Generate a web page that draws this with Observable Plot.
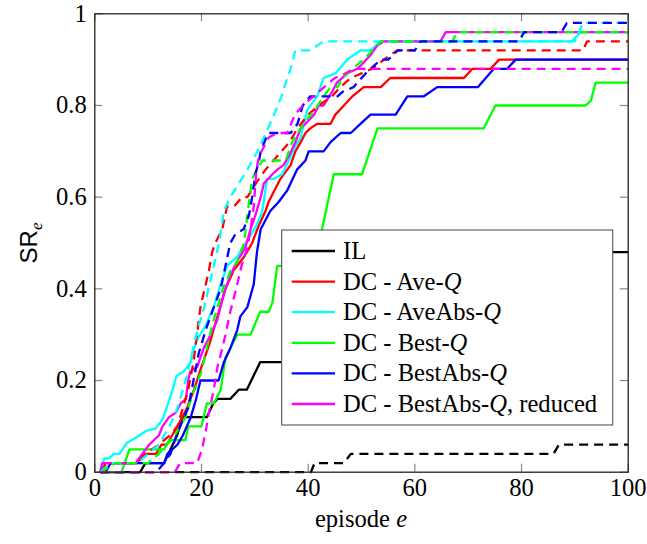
<!DOCTYPE html>
<html><head><meta charset="utf-8">
<script src="https://cdn.jsdelivr.net/npm/d3@7"></script>
<script src="https://cdn.jsdelivr.net/npm/@observablehq/plot@0.6"></script>
<style>
html,body{margin:0;padding:0;background:#fff;}
#chart{width:647px;height:544px;}
</style></head><body><div id="chart"></div>
<script>
// ---- ticks ----
const xTicks = [0, 20, 40, 60, 80, 100];
const yTicks = [0, 0.2, 0.4, 0.6, 0.8, 1];
const yTickLabels = ["0", "0.2", "0.4", "0.6", "0.8", "1"];

// ---- legend ----
const seriesNames = ["IL", "DC - Ave-Q", "DC - AveAbs-Q", "DC - Best-Q", "DC - BestAbs-Q", "DC - BestAbs-Q, reduced"];
const seriesColors = ["#000000", "#ff0000", "#00ffff", "#00ff00", "#0000ff", "#ff00ff"];

// ---- series (episode, SR) : solid ----
const ilSolid = [[1,0],[8.5,0],[9.5,0.02],[13,0.02],[13.8,0.04],[15.4,0.08],[16.5,0.12],[21,0.12],[22.2,0.15],[23,0.16],[25.4,0.16],[27,0.18],[28.5,0.18],[31,0.24],[36,0.24],[42,0.28],[50,0.32],[58,0.36],[66,0.4],[75,0.44],[85,0.46],[94,0.48],[100,0.48]];
const aveSolid = [[1,0],[2,0.02],[8,0.02],[9,0.04],[11.5,0.04],[12.5,0.06],[13.5,0.06],[14.5,0.08],[15.5,0.1],[17.3,0.14],[18.6,0.18],[20,0.23],[21.5,0.28],[22.5,0.32],[23.5,0.36],[24.5,0.4],[26,0.44],[28,0.47],[29.5,0.5],[30.8,0.54],[32,0.57],[32.6,0.59],[34.8,0.64],[36.7,0.67],[37.6,0.7],[38.6,0.72],[39.5,0.74],[40.4,0.75],[41.7,0.76],[44.2,0.76],[45.1,0.78],[46.7,0.8],[48.3,0.82],[50.4,0.84],[53.6,0.84],[55.4,0.86],[69.2,0.86],[70.8,0.88],[74.2,0.88],[75.8,0.9],[100,0.9]];
const aveAbsSolid = [[1,0],[1.8,0.03],[2.7,0.03],[3.6,0.04],[4.6,0.04],[5.2,0.05],[6.1,0.065],[7.7,0.075],[9.6,0.09],[11.4,0.095],[12.7,0.115],[13.6,0.145],[14.6,0.18],[15.3,0.21],[16.7,0.22],[18,0.24],[18.3,0.26],[19.2,0.29],[20.8,0.32],[22.3,0.36],[23.6,0.41],[24.8,0.45],[26.7,0.47],[28.3,0.5],[30.4,0.54],[31.4,0.57],[32.3,0.64],[33.6,0.64],[35.1,0.65],[36.4,0.68],[37.5,0.71],[38.6,0.73],[39.8,0.79],[41.7,0.82],[42.9,0.86],[45.1,0.87],[47.3,0.9],[49.8,0.92],[51.7,0.92],[53.6,0.94],[89.5,0.94],[91,0.96],[100,0.96]];
const bestSolid = [[1,0],[5,0],[6.5,0.05],[13,0.05],[14,0.07],[17,0.07],[17.5,0.1],[20,0.1],[21,0.15],[22.3,0.15],[23.6,0.18],[24.5,0.25],[26.7,0.3],[29.2,0.3],[31,0.35],[32.6,0.35],[33.3,0.37],[34.2,0.45],[40,0.45],[41,0.5],[42.6,0.53],[44.8,0.65],[50.1,0.65],[53,0.75],[72.9,0.75],[75.1,0.8],[92,0.8],[93,0.81],[93.9,0.85],[100,0.85]];
const bestAbsSolid = [[2,0],[3,0.02],[13,0.02],[13.6,0.04],[15.5,0.06],[16.5,0.08],[18,0.12],[19,0.16],[19.8,0.2],[23.2,0.2],[24.2,0.24],[25.4,0.27],[26.7,0.31],[27.3,0.34],[28.6,0.36],[29.8,0.41],[30.4,0.48],[31.1,0.53],[32.9,0.57],[34.5,0.59],[36.1,0.615],[37.9,0.66],[39.5,0.68],[40.1,0.7],[42.9,0.7],[44.2,0.72],[46.1,0.74],[48,0.74],[49.8,0.76],[51.7,0.78],[56.4,0.78],[58.6,0.82],[61.7,0.82],[64.2,0.84],[71.8,0.84],[73.3,0.86],[74.8,0.88],[77.3,0.88],[78.9,0.9],[100,0.9]];
const reducedSolid = [[1,0],[1.4,0.02],[7.7,0.02],[8.9,0.04],[10.2,0.06],[12,0.08],[12.7,0.1],[13.9,0.12],[15.2,0.13],[16.1,0.15],[17.1,0.16],[17.5,0.2],[17.9,0.22],[19.2,0.23],[20.4,0.27],[21.7,0.3],[22.9,0.33],[24.2,0.39],[25.4,0.43],[26.7,0.46],[28.2,0.49],[29.2,0.53],[30.1,0.56],[31.1,0.6],[31.7,0.63],[33.3,0.65],[34.2,0.66],[35.4,0.67],[36.4,0.69],[37.6,0.72],[38.6,0.75],[39.5,0.76],[41.1,0.78],[42,0.8],[42.9,0.8],[44.5,0.83],[45.4,0.85],[46.4,0.86],[47.3,0.87],[49.2,0.88],[50.1,0.89],[51.7,0.91],[52.9,0.93],[54.2,0.94],[64.8,0.94],[65.8,0.96],[100,0.96]];

// ---- series : dashed ----
const ilDashed = [[1,0],[40.5,0],[41.2,0.02],[46.7,0.02],[48,0.04],[86,0.04],[87,0.06],[100,0.06]];
const aveDashed = [[1,0],[2.5,0.02],[8,0.02],[9.5,0.04],[12,0.06],[14,0.08],[15.5,0.1],[16.5,0.14],[17.5,0.18],[18.5,0.24],[19.8,0.36],[20.8,0.41],[21.4,0.44],[22,0.48],[22.6,0.5],[23.9,0.53],[24.8,0.58],[26.1,0.58],[27.6,0.6],[28.6,0.6],[30.2,0.63],[32,0.66],[33.5,0.68],[35,0.7],[36.5,0.72],[38,0.75],[40,0.78],[42,0.8],[44.5,0.82],[46,0.84],[48,0.86],[50,0.87],[52,0.88],[54.2,0.9],[55.4,0.91],[56.7,0.92],[91.5,0.92],[92.3,0.94],[100,0.94]];
const aveAbsDashed = [[1,0],[3,0.02],[8,0.02],[10,0.04],[12,0.06],[14,0.1],[15.5,0.14],[16.5,0.18],[17.5,0.22],[18.6,0.28],[19.5,0.32],[20.5,0.36],[21.5,0.41],[22.5,0.46],[23.3,0.5],[24.2,0.57],[25.4,0.6],[27,0.63],[28.6,0.66],[30.5,0.7],[31.7,0.73],[33.6,0.78],[35,0.82],[35.8,0.85],[36.7,0.88],[37.6,0.92],[40.4,0.92],[42.9,0.94],[90,0.94],[91.5,0.98],[100,0.98]];
const bestDashed = [[1,0],[4,0.02],[10,0.02],[12,0.04],[15,0.08],[17,0.12],[18.3,0.17],[18.9,0.185],[20,0.22],[21,0.27],[22,0.32],[23,0.36],[24,0.4],[25.5,0.44],[26.7,0.46],[28,0.5],[28.8,0.58],[29.5,0.64],[30.4,0.66],[31.4,0.68],[35.8,0.68],[37,0.72],[38,0.74],[39.2,0.76],[40.5,0.78],[41.8,0.8],[42.9,0.82],[44.2,0.84],[45.5,0.84],[46.5,0.86],[48.3,0.88],[50.4,0.9],[52,0.92],[53.6,0.94],[67,0.94],[68,0.96],[100,0.96]];
const bestAbsDashed = [[1,0],[11.5,0],[13,0.02],[14.2,0.04],[15,0.07],[16,0.1],[17.5,0.14],[18.5,0.2],[19.5,0.26],[20.8,0.31],[22,0.35],[23.6,0.4],[24.5,0.45],[25.4,0.5],[26.4,0.52],[27.9,0.53],[28.9,0.56],[29.5,0.6],[30.1,0.65],[30.8,0.68],[31.1,0.7],[32.5,0.74],[36.7,0.74],[38,0.76],[39,0.8],[40.4,0.82],[45.5,0.82],[46.5,0.83],[48.5,0.84],[50.8,0.87],[51.7,0.88],[53.6,0.9],[55,0.9],[56.8,0.92],[60,0.92],[61,0.94],[79.5,0.94],[80.5,0.96],[87.5,0.96],[88.5,0.98],[100,0.98]];
const reducedDashed = [[1,0],[15,0],[16,0.02],[19.2,0.02],[20.1,0.05],[20.8,0.09],[21.4,0.13],[22.3,0.18],[23,0.23],[23.9,0.27],[24.5,0.3],[25.4,0.35],[26.5,0.4],[27.5,0.45],[28.6,0.49],[29.2,0.53],[29.8,0.58],[30.3,0.66],[30.8,0.69],[31.7,0.71],[32.6,0.73],[34.2,0.74],[36.1,0.74],[37.5,0.78],[39,0.8],[41,0.82],[43,0.84],[45,0.86],[47,0.87],[48.5,0.88],[100,0.88]];

const solids = [ilSolid, aveSolid, aveAbsSolid, bestSolid, bestAbsSolid, reducedSolid];
const dasheds = [ilDashed, aveDashed, aveAbsDashed, bestDashed, bestAbsDashed, reducedDashed];

const LW = 2.3;
const FS = 24.6;
const SERIF = "'Liberation Serif', 'Times New Roman', serif";
const marks = [];
solids.forEach((s, i) => marks.push(Plot.line(s, {x: d => d[0], y: d => d[1], stroke: seriesColors[i], strokeWidth: LW, strokeLinecap: "butt", strokeLinejoin: "round"})));
dasheds.forEach((s, i) => marks.push(Plot.line(s, {x: d => d[0], y: d => d[1], stroke: seriesColors[i], strokeWidth: LW, strokeDasharray: "9,6", strokeLinecap: "butt", strokeLinejoin: "round"})));

const tx = 1.5, ty = 0.0175;
marks.push(
  Plot.ruleY(yTicks, {y: d => d, x1: 0, x2: tx, stroke: "#888", strokeWidth: 1.2}),
  Plot.ruleY(yTicks, {y: d => d, x1: 100 - tx, x2: 100, stroke: "#888", strokeWidth: 1.2}),
  Plot.ruleX(xTicks, {x: d => d, y1: 0, y2: ty, stroke: "#888", strokeWidth: 1.2}),
  Plot.ruleX(xTicks, {x: d => d, y1: 1 - ty, y2: 1, stroke: "#888", strokeWidth: 1.2}),
  Plot.frame({stroke: "#222", strokeWidth: 1.3}),
  Plot.axisX({ticks: xTicks, tickSize: 0, tickPadding: 6, label: null, tickFormat: d => String(d)}),
  Plot.axisY({ticks: yTicks, tickSize: 0, tickPadding: 8, label: null,
    tickFormat: d => yTickLabels[yTicks.findIndex(t => Math.abs(t - d) < 1e-9)]})
);

const chart = Plot.plot({
  width: 647, height: 544,
  marginLeft: 94.3, marginRight: 19.3, marginTop: 13.3, marginBottom: 72.3,
  x: {domain: [0, 100]},
  y: {domain: [0, 1]},
  style: {fontFamily: SERIF, fontSize: FS + "px", background: "white", overflow: "visible", color: "black"},
  marks
});
document.getElementById("chart").appendChild(chart);

const svg = d3.select(chart);
svg.selectAll("text").attr("fill", "black").attr("font-family", SERIF);

// legend
const lg = svg.append("g").attr("text-anchor", "start");
const lx = 281.7, ly = 230, lw = 331, lh = 195, row0 = 251, rowH = 30.6;
lg.append("rect").attr("x", lx).attr("y", ly).attr("width", lw).attr("height", lh)
  .attr("fill", "white").attr("stroke", "#555").attr("stroke-width", 1.1);
seriesNames.forEach((name, i) => {
  const cy = row0 + i * rowH;
  lg.append("line").attr("x1", 291.7).attr("x2", 335).attr("y1", cy).attr("y2", cy)
    .attr("stroke", seriesColors[i]).attr("stroke-width", LW);
  const t = lg.append("text").attr("x", 343).attr("y", cy + 8).attr("text-anchor", "start")
    .attr("font-family", SERIF).attr("font-size", FS).attr("fill", "black");
  const parts = name.split("Q");
  parts.forEach((p, j) => {
    if (j > 0) t.append("tspan").attr("font-style", "italic").text("Q");
    if (p) t.append("tspan").text(p);
  });
});

// axis labels
const xl = svg.append("text").attr("x", 361).attr("y", 527).attr("text-anchor", "middle")
  .attr("font-family", SERIF).attr("font-size", FS).attr("fill", "black");
xl.append("tspan").text("episode ");
xl.append("tspan").attr("font-style", "italic").text("e");

const yl = svg.append("text").attr("transform", "translate(37,243) rotate(-90)").attr("text-anchor", "middle")
  .attr("font-size", 24).attr("fill", "black");
yl.append("tspan").attr("font-family", "'Liberation Sans', Arial, sans-serif").text("SR");
yl.append("tspan").attr("font-family", SERIF).attr("font-style", "italic")
  .attr("font-size", 17).attr("dy", 5).text("e");
</script>
</body></html>
